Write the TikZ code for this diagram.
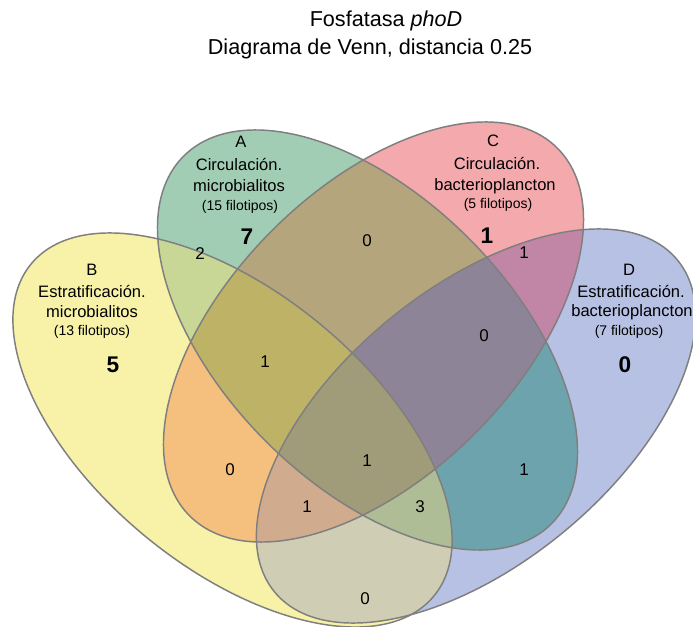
\documentclass[tikz,border=0pt]{standalone}
\usepackage{fontspec}
\setmainfont{Liberation Sans}
\definecolor{cA}{HTML}{A2CDB5}
\definecolor{cB}{HTML}{F7F2A8}
\definecolor{cC}{HTML}{F4A9AD}
\definecolor{cD}{HTML}{B7C1E3}
\definecolor{cAB}{HTML}{C8D796}
\definecolor{cAC}{HTML}{B4A57D}
\definecolor{cAD}{HTML}{6DA3AD}
\definecolor{cBC}{HTML}{F5BF7E}
\definecolor{cBD}{HTML}{CFCDB3}
\definecolor{cCD}{HTML}{C185A6}
\definecolor{cABC}{HTML}{BDB266}
\definecolor{cABD}{HTML}{AEBD96}
\definecolor{cACD}{HTML}{8E8498}
\definecolor{cBCD}{HTML}{D1AB8E}
\definecolor{cABCD}{HTML}{A09B78}
\definecolor{edge}{HTML}{7F7F7F}
\newcommand\ClipA{\clip[rotate around={-45:(367.5,340)}] (367.5,340) ellipse [x radius=260, y radius=143.5];}
\newcommand\ClipB{\clip[rotate around={-39.5:(232.5,430)}] (232.5,430) ellipse [x radius=261, y radius=137.5];}
\newcommand\ClipC{\clip[rotate around={45:(373.5,332)}] (373.5,332) ellipse [x radius=260, y radius=143.5];}
\newcommand\ClipD{\clip[rotate around={39.5:(476,426)}] (476,426) ellipse [x radius=261, y radius=137.5];}
\newcommand\Paint[1]{\fill[#1] (0,0) rectangle (693,627);}
\begin{document}
\begin{tikzpicture}[x=0.75pt,y=-0.75pt,
  outline/.style={draw=edge, line width=1.1pt},
  ttl/.style={font=\fontsize{16.2}{19}\selectfont, inner sep=0, anchor=base},
  lab/.style={font=\fontsize{12.4}{14}\selectfont, inner sep=0, anchor=base},
  sub/.style={font=\fontsize{10.5}{12}\selectfont, inner sep=0, anchor=base},
  num/.style={font=\fontsize{12.75}{14}\selectfont, inner sep=0, anchor=base},
  big/.style={font=\fontsize{17}{19}\selectfont\bfseries, inner sep=0, anchor=base}]
\useasboundingbox (0,0) rectangle (693,627);
\clip (0,0) rectangle (693,627);
\fill[white] (0,0) rectangle (693,627);
% single sets
\begin{scope}\ClipA\Paint{cA}\end{scope}
\begin{scope}\ClipB\Paint{cB}\end{scope}
\begin{scope}\ClipC\Paint{cC}\end{scope}
\begin{scope}\ClipD\Paint{cD}\end{scope}
% pairs
\begin{scope}\ClipA\ClipB\Paint{cAB}\end{scope}
\begin{scope}\ClipA\ClipC\Paint{cAC}\end{scope}
\begin{scope}\ClipA\ClipD\Paint{cAD}\end{scope}
\begin{scope}\ClipB\ClipC\Paint{cBC}\end{scope}
\begin{scope}\ClipB\ClipD\Paint{cBD}\end{scope}
\begin{scope}\ClipC\ClipD\Paint{cCD}\end{scope}
% triples
\begin{scope}\ClipA\ClipB\ClipC\Paint{cABC}\end{scope}
\begin{scope}\ClipA\ClipB\ClipD\Paint{cABD}\end{scope}
\begin{scope}\ClipA\ClipC\ClipD\Paint{cACD}\end{scope}
\begin{scope}\ClipB\ClipC\ClipD\Paint{cBCD}\end{scope}
% all four
\begin{scope}\ClipA\ClipB\ClipC\ClipD\Paint{cABCD}\end{scope}
% outlines
\draw[outline, rotate around={-39.5:(232.5,430)}] (232.5,430) ellipse [x radius=261, y radius=137.5];
\draw[outline, rotate around={39.5:(476,426)}] (476,426) ellipse [x radius=261, y radius=137.5];
\draw[outline, rotate around={-45:(367.5,340)}] (367.5,340) ellipse [x radius=260, y radius=143.5];
\draw[outline, rotate around={45:(373.5,332)}] (373.5,332) ellipse [x radius=260, y radius=143.5];
% title
\node[ttl] (t1) at (386,27) {Fosfatasa \textit{phoD}};
\node[ttl] (t2) at (370,55) {Diagrama de Venn, distancia 0.25};
% A
\node[lab] (aA) at (241,148) {A};
\node[lab] (aA1) at (239,171) {Circulación.};
\node[lab] (aA2) at (239,192) {microbialitos};
\node[sub] (aA3) at (240,211) {(15 filotipos)};
\node[big] (nA) at (247,245) {7};
% C
\node[lab] (aC) at (493,147) {C};
\node[lab] (aC1) at (497,170) {Circulación.};
\node[lab] (aC2) at (495,191) {bacterioplancton};
\node[sub] (aC3) at (498,209) {(5 filotipos)};
\node[big] (nC) at (487,244) {1};
% B
\node[lab] (aB) at (92,276) {B};
\node[lab] (aB1) at (92,298) {Estratificación.};
\node[lab] (aB2) at (92,318) {microbialitos};
\node[sub] (aB3) at (92,336) {(13 filotipos)};
\node[big] (nB) at (113,373) {5};
% D
\node[lab] (aD) at (629,276) {D};
\node[lab] (aD1) at (631,298) {Estratificación.};
\node[lab] (aD2) at (632,317) {bacterioplancton};
\node[sub] (aD3) at (629,336) {(7 filotipos)};
\node[big] (nD) at (625,373) {0};
% region counts
\node[num] (nAB) at (200,260) {2};
\node[num] (nAC) at (367,247) {0};
\node[num] (nCD) at (524,259) {1};
\node[num] (nABC) at (265,368) {1};
\node[num] (nACD) at (484,342) {0};
\node[num] (nBC) at (230,475) {0};
\node[num] (nABCD) at (367,466) {1};
\node[num] (nAD) at (524,475) {1};
\node[num] (nBCD) at (307,512) {1};
\node[num] (nABD) at (420,512) {3};
\node[num] (nBD) at (365,604) {0};
\end{tikzpicture}
\end{document}
